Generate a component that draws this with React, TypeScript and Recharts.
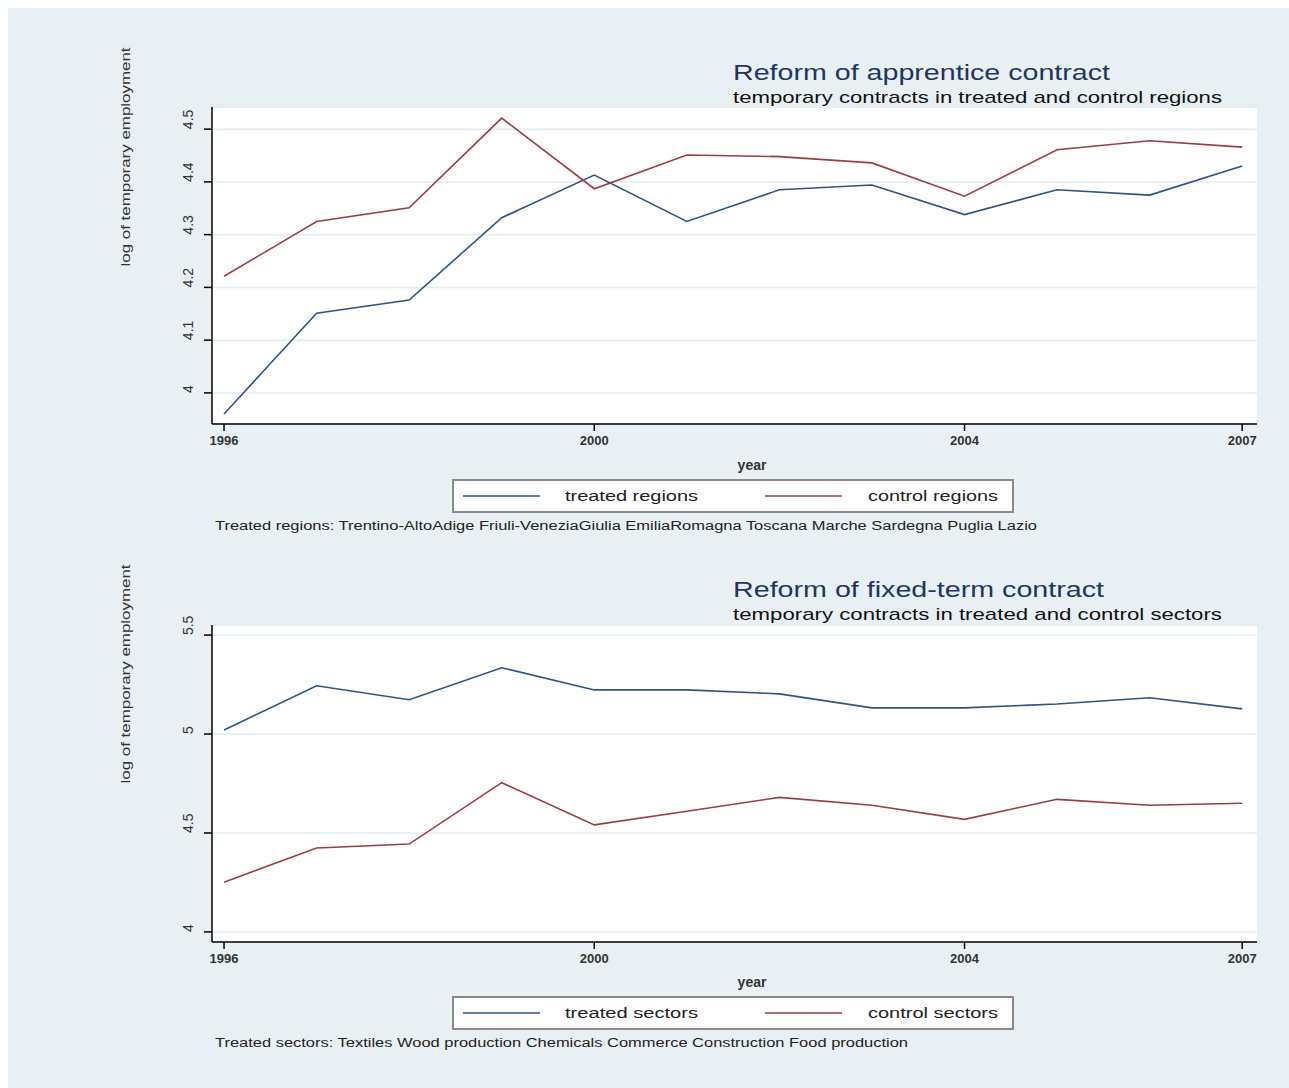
import React from "react";
import { LineChart, Line, XAxis, YAxis, CartesianGrid } from "recharts";

const years = [1996, 1997, 1998, 1999, 2000, 2001, 2002, 2003, 2004, 2005, 2006, 2007];
const treatedRegions = [3.96, 4.151, 4.176, 4.332, 4.413, 4.325, 4.385, 4.394, 4.338, 4.385, 4.375, 4.43];
const controlRegions = [4.221, 4.325, 4.351, 4.521, 4.387, 4.451, 4.448, 4.436, 4.373, 4.461, 4.478, 4.466];
const treatedSectors = [5.02, 5.244, 5.173, 5.335, 5.223, 5.223, 5.203, 5.132, 5.132, 5.152, 5.183, 5.127];
const controlSectors = [4.251, 4.424, 4.444, 4.754, 4.541, 4.61, 4.68, 4.64, 4.569, 4.67, 4.64, 4.65];
const xTicks = [1996, 2000, 2004, 2007];
const topYTicks = [4, 4.1, 4.2, 4.3, 4.4, 4.5];
const bottomYTicks = [4, 4.5, 5, 5.5];

const topData = years.map((year, i) => ({ year, treated: treatedRegions[i], control: controlRegions[i] }));
const bottomData = years.map((year, i) => ({ year, treated: treatedSectors[i], control: controlSectors[i] }));

const FONT = "'Liberation Sans', Arial, sans-serif";
const BLUE = "#2f5482";
const RED = "#9a3d46";
const BG = "#e8f0f3";

const XTick = (props: any) => {
  const { x, y, payload } = props;
  return (
    <text x={x} y={y + 12} textAnchor="middle" fontFamily={FONT} fontSize={13} fontWeight="bold" fill="#333">
      {payload.value}
    </text>
  );
};

const YTick = (props: any) => {
  const { y, payload } = props;
  return (
    <text
      x={0}
      y={0}
      transform={`translate(185, ${y}) rotate(-90)`}
      textAnchor="start"
      fontFamily={FONT}
      fontSize={14}
      fill="#333"
    >
      {String(payload.value)}
    </text>
  );
};

function Panel({ data, domain, yTicks }: { data: any[]; domain: [number, number]; yTicks: number[] }) {
  return (
    <LineChart width={1281} height={446} data={data} margin={{ top: 99, right: 32, bottom: 0, left: 0 }}>
      <CartesianGrid vertical={false} stroke="#e3ecf1" strokeWidth={1.5} fill="#ffffff" />
      <XAxis
        dataKey="year"
        type="number"
        domain={[1995.87, 2007.16]}
        ticks={xTicks}
        height={30}
        tickSize={7}
        tick={<XTick />}
        axisLine={{ stroke: "#000", strokeWidth: 1.5 }}
        tickLine={{ stroke: "#000", strokeWidth: 1.5 }}
        allowDataOverflow
      />
      <YAxis
        type="number"
        domain={domain}
        ticks={yTicks}
        width={204}
        tickSize={8}
        tick={<YTick />}
        axisLine={{ stroke: "#000", strokeWidth: 1.5 }}
        tickLine={{ stroke: "#000", strokeWidth: 1.5 }}
        allowDataOverflow
      />
      <Line type="linear" dataKey="treated" stroke={BLUE} strokeWidth={1.6} dot={false} isAnimationActive={false} />
      <Line type="linear" dataKey="control" stroke={RED} strokeWidth={1.6} dot={false} isAnimationActive={false} />
    </LineChart>
  );
}

function Texts({ dy, title, titleLen, sub, treatedLabel, controlLabel, note, noteLen }: any) {
  return (
    <g fontFamily={FONT}>
      <text x={725} y={72 + dy} fontSize={22} fill="#1f3566" textLength={titleLen} lengthAdjust="spacingAndGlyphs">
        {title}
      </text>
      <text x={725} y={95 + dy} fontSize={17} fill="#111" textLength={489} lengthAdjust="spacingAndGlyphs">
        {sub}
      </text>
      <text
        x={0}
        y={0}
        transform={`translate(122, ${149 + dy}) rotate(-90)`}
        textAnchor="middle"
        fontSize={12}
        fill="#333"
        textLength={219}
        lengthAdjust="spacingAndGlyphs"
      >
        log of temporary employment
      </text>
      <text x={744} y={462 + dy} textAnchor="middle" fontSize={14} fontWeight="bold" fill="#333">
        year
      </text>
      <rect x={445} y={472 + dy} width={560} height={32} fill="#fff" stroke="#8a8a8a" strokeWidth={2} />
      <line x1={455} x2={532} y1={488 + dy} y2={488 + dy} stroke={BLUE} strokeWidth={1.6} />
      <text x={557} y={493 + dy} fontSize={14} fill="#222" textLength={133} lengthAdjust="spacingAndGlyphs">
        {treatedLabel}
      </text>
      <line x1={757} x2={834} y1={488 + dy} y2={488 + dy} stroke={RED} strokeWidth={1.6} />
      <text x={860} y={493 + dy} fontSize={14} fill="#222" textLength={130} lengthAdjust="spacingAndGlyphs">
        {controlLabel}
      </text>
      <text x={207} y={522 + dy} fontSize={12} fill="#222" textLength={noteLen} lengthAdjust="spacingAndGlyphs">
        {note}
      </text>
    </g>
  );
}

export default function App() {
  return (
    <div
      style={{
        position: "fixed",
        left: 8,
        top: 8,
        width: 1281,
        height: 1080,
        background: BG,
        overflow: "hidden",
      }}
    >
      <div style={{ position: "absolute", left: 0, top: 0 }}>
        <Panel data={topData} domain={[3.941, 4.542]} yTicks={topYTicks} />
      </div>
      <div style={{ position: "absolute", left: 0, top: 518 }}>
        <Panel data={bottomData} domain={[3.949, 5.551]} yTicks={bottomYTicks} />
      </div>
      <svg width={1281} height={1080} style={{ position: "absolute", left: 0, top: 0, pointerEvents: "none" }}>
        <Texts
          dy={0}
          title="Reform of apprentice contract"
          titleLen={377}
          sub="temporary contracts in treated and control regions"
          treatedLabel="treated regions"
          controlLabel="control regions"
          note="Treated regions: Trentino-AltoAdige Friuli-VeneziaGiulia EmiliaRomagna Toscana Marche Sardegna Puglia Lazio"
          noteLen={822}
        />
        <Texts
          dy={517}
          title="Reform of fixed-term contract"
          titleLen={371}
          sub="temporary contracts in treated and control sectors"
          treatedLabel="treated sectors"
          controlLabel="control sectors"
          note="Treated sectors: Textiles Wood production Chemicals Commerce Construction Food production"
          noteLen={693}
        />
      </svg>
    </div>
  );
}
